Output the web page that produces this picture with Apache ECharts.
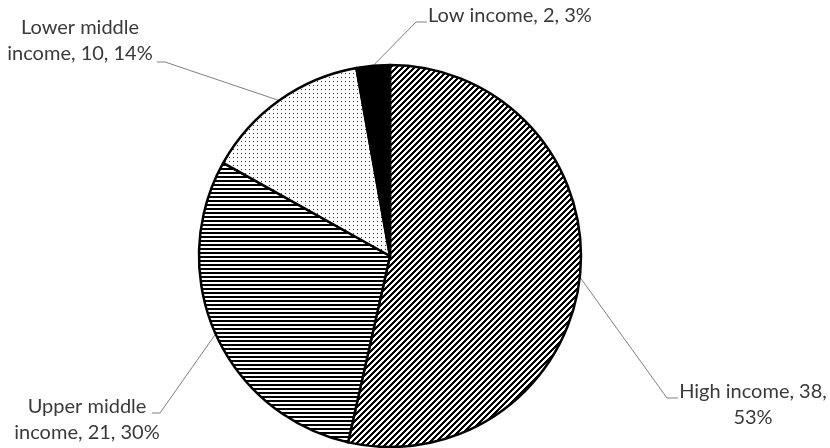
<!DOCTYPE html>
<html>
<head>
<meta charset="utf-8">
<script src="https://cdn.jsdelivr.net/npm/echarts@6/dist/echarts.min.js"></script>
<style>
html,body{margin:0;padding:0;background:#fff;}
#chart{width:830px;height:448px;}
</style>
</head>
<body>
<div id="chart"></div>
<script>
// ---- data ----
const categories = ['High income', 'Upper middle income', 'Lower middle income', 'Low income'];
const values = [38, 21, 10, 2];
// where each label text wraps: 'pct' = before percentage, 'name' = inside the name, 'none'
const labelWrap = ['pct', 'name', 'name', 'none'];

// ---- label placement (text anchor + leader bend/end) ----
const labelPlace = [
  { x: 753, y: 405, align: 'center', bend: [667, 398], end: [678, 398] },
  { x: 87,  y: 420, align: 'center', bend: [160, 413], end: [152, 413] },
  { x: 80,  y: 41,  align: 'center', bend: [165, 62],  end: [157, 62] },
  { x: 428, y: 16,  align: 'left',   bend: [416, 22],  end: [427, 22] }
];

// ---- patterns (pixel tiles) ----
function makeTile(w, h, isInk, ink) {
  const c = document.createElement('canvas');
  c.width = w; c.height = h;
  const ctx = c.getContext('2d');
  ctx.fillStyle = '#fff';
  ctx.fillRect(0, 0, w, h);
  ctx.fillStyle = ink;
  for (let y = 0; y < h; y++) {
    for (let x = 0; x < w; x++) {
      if (isInk(x, y)) ctx.fillRect(x, y, 1, 1);
    }
  }
  return c;
}
const diagTile = makeTile(6, 6, function (x, y) { return (x + y) % 6 < 3; }, '#000');
const horizTile = makeTile(4, 4, function (x, y) { return y < 2; }, '#000');
const dotTile = makeTile(4, 4, function (x, y) { return x === 1 && y === 1; }, '#333');
const fills = [
  { image: diagTile, repeat: 'repeat' },
  { image: horizTile, repeat: 'repeat' },
  { image: dotTile, repeat: 'repeat' },
  '#000'
];

function labelText(i, name, value, pct) {
  const w = labelWrap[i];
  if (w === 'pct') return name + ', ' + value + ',\n' + pct + '%';
  if (w === 'name') {
    const parts = name.split(' ');
    return parts.slice(0, 2).join(' ') + '\n' + parts.slice(2).join(' ') + ', ' + value + ', ' + pct + '%';
  }
  return name + ', ' + value + ', ' + pct + '%';
}

const chart = echarts.init(document.getElementById('chart'));
chart.setOption({
  backgroundColor: '#fff',
  animation: false,
  series: [{
    type: 'pie',
    center: [390, 256],
    radius: 191,
    startAngle: 90,
    clockwise: true,
    percentPrecision: 0,
    data: categories.map(function (c, i) {
      return { name: c, value: values[i], itemStyle: { color: fills[i] } };
    }),
    itemStyle: { borderColor: '#000', borderWidth: 2.5 },
    label: {
      show: true,
      position: 'outside',
      fontFamily: 'Lato',
      fontSize: 20,
      lineHeight: 26,
      color: '#3a3a3a',
      formatter: function (p) {
        return labelText(p.dataIndex, p.name, p.value, p.percent);
      }
    },
    labelLine: {
      show: true,
      lineStyle: { color: '#808080', width: 1 }
    },
    labelLayout: function (params) {
      const lp = labelPlace[params.dataIndex];
      const first = params.labelLinePoints ? params.labelLinePoints[0] : lp.bend;
      return {
        x: lp.x,
        y: lp.y,
        align: lp.align,
        verticalAlign: 'middle',
        labelLinePoints: [first, lp.bend, lp.end]
      };
    }
  }]
});
</script>
</body>
</html>
